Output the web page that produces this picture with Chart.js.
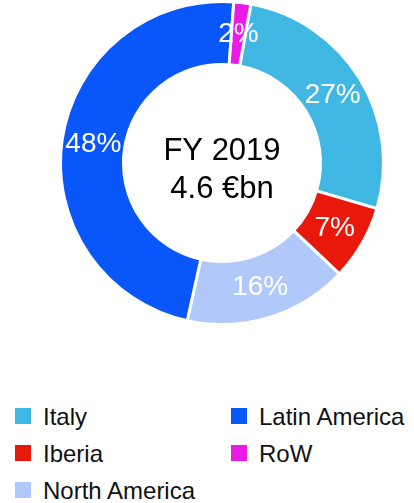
<!DOCTYPE html>
<html>
<head>
<meta charset="utf-8">
<script src="https://cdn.jsdelivr.net/npm/chart.js@4/dist/chart.umd.min.js"></script>
<style>
  html, body { margin: 0; padding: 0; background: #fff; width: 414px; height: 503px; overflow: hidden; }
  #wrap { position: absolute; left: 0; top: 0; width: 414px; height: 326px; }
  #legend { position: absolute; left: 0; top: 398px; width: 414px; font-family: "Liberation Sans", Arial, sans-serif; font-size: 24px; color: #111; }
  .item { position: absolute; height: 37px; line-height: 37px; white-space: nowrap; }
  .box { position: absolute; left: 0; top: 10px; width: 16px; height: 16px; }
  .txt { position: absolute; left: 28px; top: 0; }
</style>
</head>
<body>
<div id="wrap"><canvas id="c" width="414" height="326"></canvas></div>
<div id="legend"></div>
<script>
const categories = ["Italy", "Iberia", "North America", "Latin America", "RoW"];
const shares = [26.7, 7.49, 16.4, 47.7, 1.7];
const colors = ["#41b8e4", "#e8190a", "#b0c9fa", "#0957fb", "#eb1ae6"];
const centerLines = ["FY 2019", "4.6 €bn"];

const FONT = '"Liberation Sans", Arial, sans-serif';

const labelPlugin = {
  id: 'sliceLabels',
  afterDatasetsDraw(chart) {
    const ctx = chart.ctx;
    const meta = chart.getDatasetMeta(0);
    ctx.save();
    ctx.fillStyle = '#ffffff';
    ctx.font = '28px ' + FONT;
    ctx.textAlign = 'center';
    ctx.textBaseline = 'middle';
    meta.data.forEach((arc, i) => {
      const p = arc.tooltipPosition();
      ctx.fillText(Math.round(shares[i]) + '%', p.x, p.y);
    });
    const a = meta.data[0];
    ctx.fillStyle = '#000000';
    ctx.font = '31px ' + FONT;
    ctx.textBaseline = 'alphabetic';
    ctx.fillText(centerLines[0], a.x, a.y - 3);
    ctx.fillText(centerLines[1], a.x, a.y + 35);
    ctx.restore();
  }
};

new Chart(document.getElementById('c'), {
  type: 'doughnut',
  data: {
    labels: categories,
    datasets: [{
      data: shares,
      backgroundColor: colors,
      borderColor: '#ffffff',
      borderWidth: 3,
      hoverOffset: 0,
      hoverBorderWidth: 3
    }]
  },
  options: {
    responsive: false,
    animation: false,
    devicePixelRatio: 1,
    rotation: 10.3,
    cutout: '61%',
    layout: { padding: { left: 30, right: 0, top: 0, bottom: 0 } },
    plugins: {
      legend: { display: false },
      tooltip: { enabled: false }
    },
    events: []
  },
  plugins: [labelPlugin]
});

// HTML legend, two columns filled column-wise
const legend = document.getElementById('legend');
const colX = [15, 231];
const rowsPerCol = 3;
categories.forEach((name, i) => {
  const col = Math.floor(i / rowsPerCol);
  const row = i % rowsPerCol;
  const it = document.createElement('div');
  it.className = 'item';
  it.style.left = colX[col] + 'px';
  it.style.top = (row * 37) + 'px';
  const b = document.createElement('span');
  b.className = 'box';
  b.style.background = colors[i];
  const t = document.createElement('span');
  t.className = 'txt';
  t.textContent = name;
  it.appendChild(b);
  it.appendChild(t);
  legend.appendChild(it);
});
</script>
</body>
</html>
